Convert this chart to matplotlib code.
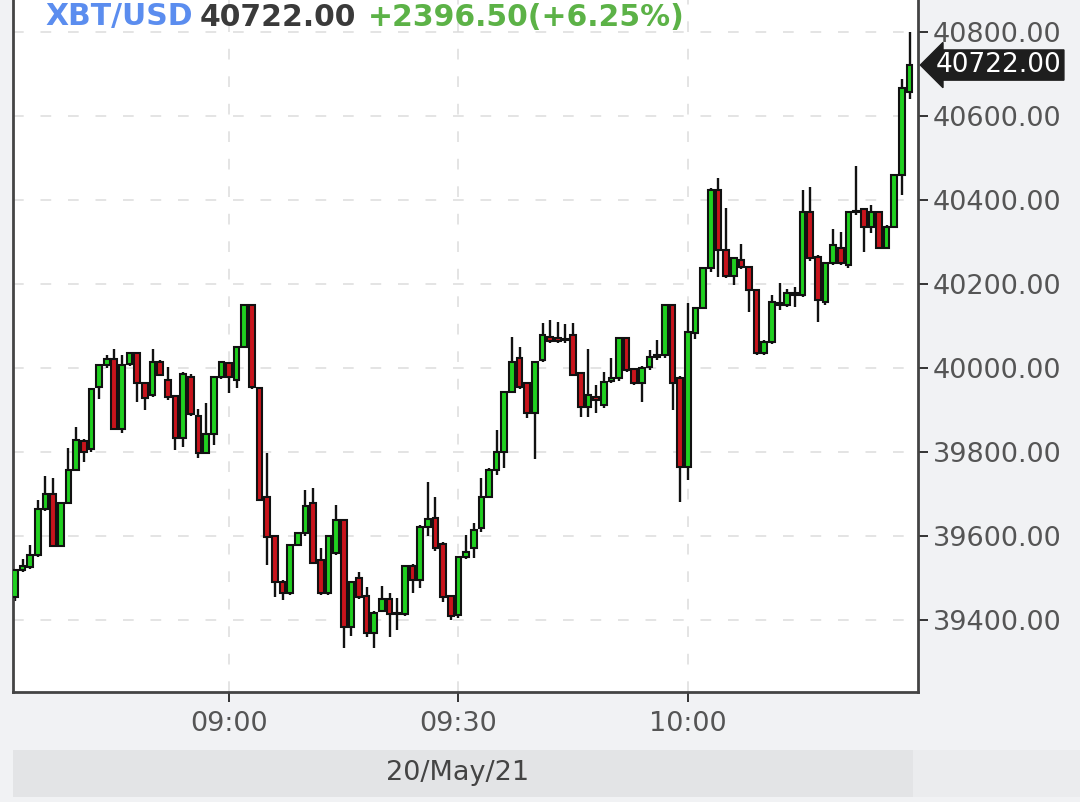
import numpy as np
import matplotlib
matplotlib.use('Agg')
import matplotlib.pyplot as plt
from matplotlib.patches import Rectangle

# 1-minute candles, 20/May/21, first one at 08:32
start_minute = 8 * 60 + 32
opens = [39455, 39519, 39526, 39555, 39664, 39700, 39576, 39679, 39757, 39826,
         39807, 39955, 40007, 40021, 39855, 40010, 40036, 39964, 39936, 40014,
         39971, 39933, 39833, 39979, 39886, 39798, 39843, 39979, 40012, 39971,
         40050, 40150, 39952, 39693, 39600, 39490, 39464, 39579, 39607, 39679,
         39543, 39464, 39560, 39638, 39383, 39500, 39457, 39369, 39420, 39450,
         39414, 39414, 39529, 39495, 39621, 39643, 39581, 39457, 39412, 39550,
         39572, 39619, 39693, 39757, 39800, 39943, 40024, 39964, 39893, 40019,
         40074, 40071, 40066, 40079, 39988, 39907, 39931, 39912, 39969, 39976,
         40071, 39998, 39964, 40002, 40026, 40031, 40150, 39976, 39764, 40083,
         40143, 40238, 40424, 40281, 40219, 40257, 40240, 40186, 40036, 40062,
         40155, 40150, 40179, 40174, 40371, 40264, 40157, 40250, 40286, 40245,
         40371, 40379, 40336, 40371, 40286, 40336, 40460, 40657]
highs = [39522, 39545, 39578, 39686, 39743, 39738, 39679, 39810, 39860, 39830,
         39950, 40010, 40030, 40045, 40031, 40036, 40036, 39964, 40045, 40019,
         40002, 39935, 39990, 39985, 39902, 39917, 39980, 40014, 40012, 40050,
         40150, 40150, 39955, 39798, 39600, 39495, 39579, 39607, 39710, 39714,
         39571, 39600, 39674, 39640, 39490, 39514, 39478, 39420, 39481, 39464,
         39452, 39529, 39532, 39625, 39729, 39693, 39585, 39460, 39550, 39602,
         39631, 39738, 39762, 39852, 39945, 40074, 40050, 39964, 40014, 40107,
         40114, 40110, 40105, 40107, 39990, 40045, 39960, 39990, 40024, 40071,
         40071, 40000, 40005, 40043, 40067, 40150, 40150, 39980, 40155, 40145,
         40240, 40430, 40452, 40381, 40265, 40295, 40240, 40186, 40066, 40174,
         40202, 40188, 40193, 40424, 40431, 40270, 40250, 40331, 40324, 40375,
         40481, 40381, 40388, 40375, 40340, 40462, 40688, 40800]
lows = [39445, 39515, 39522, 39550, 39660, 39576, 39576, 39679, 39755, 39776,
        39800, 39926, 40000, 39855, 39845, 40005, 39919, 39900, 39930, 39980,
        39925, 39805, 39812, 39885, 39786, 39795, 39817, 39975, 39940, 39952,
        40050, 39950, 39686, 39530, 39455, 39448, 39460, 39575, 39600, 39536,
        39460, 39460, 39555, 39333, 39362, 39450, 39360, 39333, 39418, 39360,
        39376, 39410, 39464, 39476, 39600, 39565, 39443, 39400, 39405, 39545,
        39548, 39610, 39690, 39745, 39762, 39940, 39950, 39880, 39783, 40015,
        40060, 40060, 40060, 39980, 39883, 39883, 39893, 39905, 39965, 39970,
        39990, 39960, 39919, 39995, 40020, 40025, 39900, 39681, 39733, 40070,
        40140, 40228, 40217, 40215, 40198, 40235, 40133, 40030, 40030, 40058,
        40138, 40145, 40145, 40170, 40255, 40110, 40150, 40245, 40245, 40238,
        40365, 40276, 40322, 40286, 40283, 40333, 40412, 40640]
closes = [39519, 39529, 39555, 39664, 39700, 39576, 39679, 39757, 39829, 39800,
          39950, 40007, 40021, 39855, 40007, 40036, 39964, 39929, 40014, 39983,
          39931, 39833, 39986, 39890, 39798, 39843, 39979, 40014, 39979, 40050,
          40150, 39955, 39686, 39598, 39490, 39464, 39579, 39607, 39671, 39536,
          39464, 39600, 39638, 39383, 39490, 39455, 39369, 39417, 39450, 39414,
          39416, 39529, 39495, 39621, 39641, 39571, 39455, 39410, 39550, 39562,
          39614, 39693, 39757, 39800, 39943, 40014, 39955, 39893, 40014, 40079,
          40064, 40064, 40069, 39983, 39907, 39936, 39924, 39967, 39976, 40071,
          39995, 39964, 40000, 40026, 40031, 40150, 39964, 39764, 40086, 40143,
          40238, 40424, 40281, 40219, 40262, 40240, 40186, 40036, 40062, 40157,
          40150, 40179, 40174, 40371, 40262, 40162, 40250, 40293, 40250, 40371,
          40374, 40336, 40371, 40286, 40336, 40460, 40667, 40722]

tick_labels = ['09:00', '09:30', '10:00']
price_ticks = [39400, 39600, 39800, 40000, 40200, 40400, 40600, 40800]
symbol = 'XBT/USD'
last_price = 40722.00
change = 2396.50
change_pct = 6.25
date_label = '20/May/21'

W, H = 1080, 802
fig = plt.figure(figsize=(W / 100, H / 100), dpi=100)
fig.patch.set_facecolor('#f1f2f4')
ax = fig.add_axes([13 / W, 1 - 692 / H, (918 - 13) / W, 692 / H])
ax.set_facecolor('white')

x = np.arange(len(opens))
o = np.array(opens, float)
c = np.array(closes, float)
up = c >= o
green = '#20d020'
red = '#c8141c'

ax.vlines(x, lows, highs, color='#111111', linewidth=1.7, zorder=2)
bottom = np.minimum(o, c)
height = np.abs(c - o)
ax.bar(x, height, bottom=bottom, width=0.74,
       color=np.where(up, green, red), edgecolor='#111111', linewidth=1.5, zorder=3)

ax.set_xlim(-0.25, 118.1)
ax.set_ylim(39228, 40877)

def tick_pos(lbl):
    h, m = lbl.split(':')
    return int(h) * 60 + int(m) - start_minute

ax.set_xticks([tick_pos(t) for t in tick_labels])
ax.set_xticklabels(tick_labels)
ax.set_yticks(price_ticks)
ax.set_yticklabels(['%.2f' % p for p in price_ticks])
ax.yaxis.tick_right()

ax.grid(True, color='#dcdcdc', linewidth=1.1, linestyle=(0, (7, 11)), zorder=0)
ax.tick_params(axis='y', direction='out', length=7.5, width=1.4, color='#333333',
               labelsize=19.5, labelcolor='#555555', pad=3)
ax.tick_params(axis='x', direction='out', length=7.5, width=1.4, color='#333333',
               labelsize=19.5, labelcolor='#555555', pad=6)
for s in ['left', 'right', 'bottom']:
    ax.spines[s].set_color('#444444')
    ax.spines[s].set_linewidth(2)
ax.spines['top'].set_visible(False)

# last price tag
ax.annotate('%.2f' % last_price, xy=(1.0, last_price), xycoords=('axes fraction', 'data'),
            xytext=(13, 0), textcoords='offset points', va='center', ha='left',
            fontsize=19, color='white',
            bbox=dict(boxstyle='larrow,pad=0.08', fc='#1e1e1e', ec='#1e1e1e'))

# header
ty = 1 - 17 / H
fig.text(45 / W, ty, symbol, color='#5b8def', fontsize=21.5, fontweight='bold', va='center')
fig.text(200 / W, ty, '%.2f' % last_price, color='#3a3a3a', fontsize=21.5,
         fontweight='bold', va='center')
fig.text(368 / W, ty, '+%.2f(+%.2f%%)' % (change, change_pct), color='#5cb247',
         fontsize=21.5, fontweight='bold', va='center')

# date band
fig.patches.append(Rectangle((13 / W, 1 - 797 / H), 900 / W, 47 / H, transform=fig.transFigure,
                             facecolor='#e3e4e6', edgecolor='none', zorder=0))
fig.patches.append(Rectangle((913 / W, 1 - 797 / H), 167 / W, 47 / H, transform=fig.transFigure,
                             facecolor='#ebecee', edgecolor='none', zorder=0))
fig.text(458 / W, 1 - 773 / H, date_label, color='#444444', fontsize=19.5,
         ha='center', va='center')

fig.savefig('out.png', dpi=100, facecolor=fig.get_facecolor())
